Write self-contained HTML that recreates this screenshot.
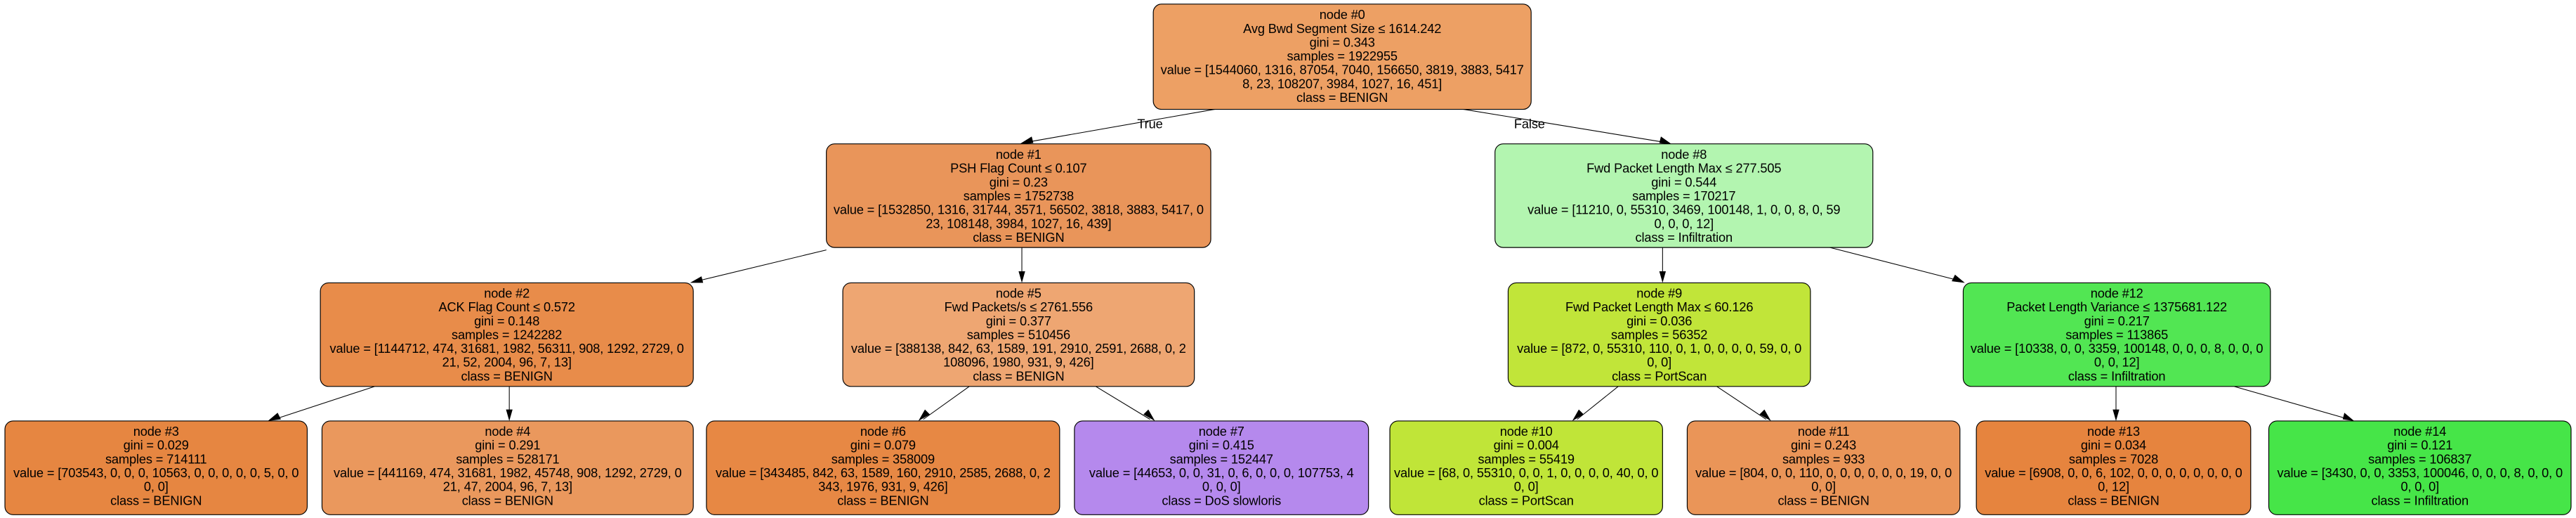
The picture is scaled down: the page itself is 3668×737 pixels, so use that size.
<!DOCTYPE html>
<html><head><meta charset="utf-8"><style>
html,body{margin:0;padding:0;background:#fff;}
svg{display:block}
text{font-family:"Liberation Sans",Arial,sans-serif;font-size:7.8px;letter-spacing:-0.06px;fill:#000;text-anchor:middle}
rect{stroke:#000;stroke-width:0.5}
line{stroke:#000;stroke-width:0.45}
polygon{fill:#000}
</style></head><body>
<svg width="3668" height="737" viewBox="0 0 1568 315" preserveAspectRatio="none" xmlns="http://www.w3.org/2000/svg">
<line x1="742" y1="66" x2="622" y2="87"/><polygon points="620,88 628,83 629,87"/>
<line x1="888" y1="66" x2="1016" y2="87"/><polygon points="1018,88 1010,87 1011,83"/>
<text x="700" y="78">True</text><text x="931" y="78">False</text>
<line x1="503" y1="152" x2="424" y2="171"/><polygon points="420,172 427,168 428,172"/>
<line x1="622" y1="150" x2="622" y2="171"/><polygon points="622,172 620,165 624,165"/>
<line x1="1012" y1="150" x2="1012" y2="171"/><polygon points="1012,172 1010,165 1014,165"/>
<line x1="1112" y1="150" x2="1194" y2="171"/><polygon points="1196,172 1188,171 1190,167"/>
<line x1="228" y1="235" x2="167" y2="255"/><polygon points="163,256 169,251 171,255"/>
<line x1="310" y1="235" x2="310" y2="255"/><polygon points="310,256 308,249 312,249"/>
<line x1="590" y1="235" x2="562" y2="255"/><polygon points="559,256 563,249 566,252"/>
<line x1="667" y1="235" x2="700" y2="255"/><polygon points="703,256 696,252 699,249"/>
<line x1="985" y1="235" x2="960" y2="255"/><polygon points="957,256 961,249 964,252"/>
<line x1="1045" y1="235" x2="1075" y2="255"/><polygon points="1078,256 1071,252 1074,249"/>
<line x1="1288" y1="235" x2="1288" y2="255"/><polygon points="1288,256 1286,249 1290,249"/>
<line x1="1360" y1="235" x2="1430" y2="255"/><polygon points="1433,256 1426,255 1427,251"/>

<rect x="702" y="2.5" width="230" height="64" rx="5" fill="#eda064"/>
<text x="817" y="11.5">node #0</text><text x="817" y="20">Avg Bwd Segment Size ≤ 1614.242</text><text x="817" y="28.4">gini = 0.343</text><text x="817" y="36.8">samples = 1922955</text><text x="817" y="45.2">value = [1544060, 1316, 87054, 7040, 156650, 3819, 3883, 5417</text><text x="817" y="53.6">8, 23, 108207, 3984, 1027, 16, 451]</text><text x="817" y="62">class = BENIGN</text>

<rect x="503" y="87.5" width="234" height="63" rx="5" fill="#e9955a"/>
<text x="620" y="96.5">node #1</text><text x="620" y="105">PSH Flag Count ≤ 0.107</text><text x="620" y="113.4">gini = 0.23</text><text x="620" y="121.8">samples = 1752738</text><text x="620" y="130.2">value = [1532850, 1316, 31744, 3571, 56502, 3818, 3883, 5417, 0</text><text x="620" y="138.6">23, 108148, 3984, 1027, 16, 439]</text><text x="620" y="147">class = BENIGN</text>

<rect x="910" y="87.5" width="230" height="63" rx="5" fill="#b3f5b0"/>
<text x="1025" y="96.5">node #8</text><text x="1025" y="105">Fwd Packet Length Max ≤ 277.505</text><text x="1025" y="113.4">gini = 0.544</text><text x="1025" y="121.8">samples = 170217</text><text x="1025" y="130.2">value = [11210, 0, 55310, 3469, 100148, 1, 0, 0, 8, 0, 59</text><text x="1025" y="138.6">0, 0, 0, 12]</text><text x="1025" y="147">class = Infiltration</text>

<rect x="195" y="172" width="227" height="63" rx="5" fill="#e88c4a"/>
<text x="308.5" y="181">node #2</text><text x="308.5" y="189.4">ACK Flag Count ≤ 0.572</text><text x="308.5" y="197.8">gini = 0.148</text><text x="308.5" y="206.2">samples = 1242282</text><text x="308.5" y="214.6">value = [1144712, 474, 31681, 1982, 56311, 908, 1292, 2729, 0</text><text x="308.5" y="223">21, 52, 2004, 96, 7, 13]</text><text x="308.5" y="231.4">class = BENIGN</text>

<rect x="513" y="172" width="214" height="63" rx="5" fill="#eea672"/>
<text x="620" y="181">node #5</text><text x="620" y="189.4">Fwd Packets/s ≤ 2761.556</text><text x="620" y="197.8">gini = 0.377</text><text x="620" y="206.2">samples = 510456</text><text x="620" y="214.6">value = [388138, 842, 63, 1589, 191, 2910, 2591, 2688, 0, 2</text><text x="620" y="223">108096, 1980, 931, 9, 426]</text><text x="620" y="231.4">class = BENIGN</text>

<rect x="918" y="172" width="184" height="63" rx="5" fill="#c1e539"/>
<text x="1010" y="181">node #9</text><text x="1010" y="189.4">Fwd Packet Length Max ≤ 60.126</text><text x="1010" y="197.8">gini = 0.036</text><text x="1010" y="206.2">samples = 56352</text><text x="1010" y="214.6">value = [872, 0, 55310, 110, 0, 1, 0, 0, 0, 0, 59, 0, 0</text><text x="1010" y="223">0, 0]</text><text x="1010" y="231.4">class = PortScan</text>

<rect x="1195" y="172" width="187" height="63" rx="5" fill="#52e653"/>
<text x="1288.5" y="181">node #12</text><text x="1288.5" y="189.4">Packet Length Variance ≤ 1375681.122</text><text x="1288.5" y="197.8">gini = 0.217</text><text x="1288.5" y="206.2">samples = 113865</text><text x="1288.5" y="214.6">value = [10338, 0, 0, 3359, 100148, 0, 0, 0, 8, 0, 0, 0</text><text x="1288.5" y="223">0, 0, 12]</text><text x="1288.5" y="231.4">class = Infiltration</text>

<rect x="3" y="256" width="184" height="57" rx="5" fill="#e68641"/>
<text x="95" y="265">node #3</text><text x="95" y="273.4">gini = 0.029</text><text x="95" y="281.8">samples = 714111</text><text x="95" y="290.2">value = [703543, 0, 0, 0, 10563, 0, 0, 0, 0, 0, 5, 0, 0</text><text x="95" y="298.6">0, 0]</text><text x="95" y="307">class = BENIGN</text>

<rect x="196" y="256" width="226" height="57" rx="5" fill="#ea985d"/>
<text x="309" y="265">node #4</text><text x="309" y="273.4">gini = 0.291</text><text x="309" y="281.8">samples = 528171</text><text x="309" y="290.2">value = [441169, 474, 31681, 1982, 45748, 908, 1292, 2729, 0</text><text x="309" y="298.6">21, 47, 2004, 96, 7, 13]</text><text x="309" y="307">class = BENIGN</text>

<rect x="430" y="256" width="215" height="57" rx="5" fill="#e78844"/>
<text x="537.5" y="265">node #6</text><text x="537.5" y="273.4">gini = 0.079</text><text x="537.5" y="281.8">samples = 358009</text><text x="537.5" y="290.2">value = [343485, 842, 63, 1589, 160, 2910, 2585, 2688, 0, 2</text><text x="537.5" y="298.6">343, 1976, 931, 9, 426]</text><text x="537.5" y="307">class = BENIGN</text>

<rect x="654" y="256" width="179" height="57" rx="5" fill="#b589ed"/>
<text x="743.5" y="265">node #7</text><text x="743.5" y="273.4">gini = 0.415</text><text x="743.5" y="281.8">samples = 152447</text><text x="743.5" y="290.2">value = [44653, 0, 0, 31, 0, 6, 0, 0, 0, 107753, 4</text><text x="743.5" y="298.6">0, 0, 0]</text><text x="743.5" y="307">class = DoS slowloris</text>

<rect x="846" y="256" width="166" height="57" rx="5" fill="#c0e538"/>
<text x="929" y="265">node #10</text><text x="929" y="273.4">gini = 0.004</text><text x="929" y="281.8">samples = 55419</text><text x="929" y="290.2">value = [68, 0, 55310, 0, 0, 1, 0, 0, 0, 0, 40, 0, 0</text><text x="929" y="298.6">0, 0]</text><text x="929" y="307">class = PortScan</text>

<rect x="1027" y="256" width="166" height="57" rx="5" fill="#ea9558"/>
<text x="1110" y="265">node #11</text><text x="1110" y="273.4">gini = 0.243</text><text x="1110" y="281.8">samples = 933</text><text x="1110" y="290.2">value = [804, 0, 0, 110, 0, 0, 0, 0, 0, 0, 19, 0, 0</text><text x="1110" y="298.6">0, 0]</text><text x="1110" y="307">class = BENIGN</text>

<rect x="1203" y="256" width="167" height="57" rx="5" fill="#e6843e"/>
<text x="1286.5" y="265">node #13</text><text x="1286.5" y="273.4">gini = 0.034</text><text x="1286.5" y="281.8">samples = 7028</text><text x="1286.5" y="290.2">value = [6908, 0, 0, 6, 102, 0, 0, 0, 0, 0, 0, 0, 0</text><text x="1286.5" y="298.6">0, 12]</text><text x="1286.5" y="307">class = BENIGN</text>

<rect x="1381" y="256" width="184" height="57" rx="5" fill="#46e548"/>
<text x="1473" y="265">node #14</text><text x="1473" y="273.4">gini = 0.121</text><text x="1473" y="281.8">samples = 106837</text><text x="1473" y="290.2">value = [3430, 0, 0, 3353, 100046, 0, 0, 0, 8, 0, 0, 0</text><text x="1473" y="298.6">0, 0, 0]</text><text x="1473" y="307">class = Infiltration</text>
</svg>
</body></html>
